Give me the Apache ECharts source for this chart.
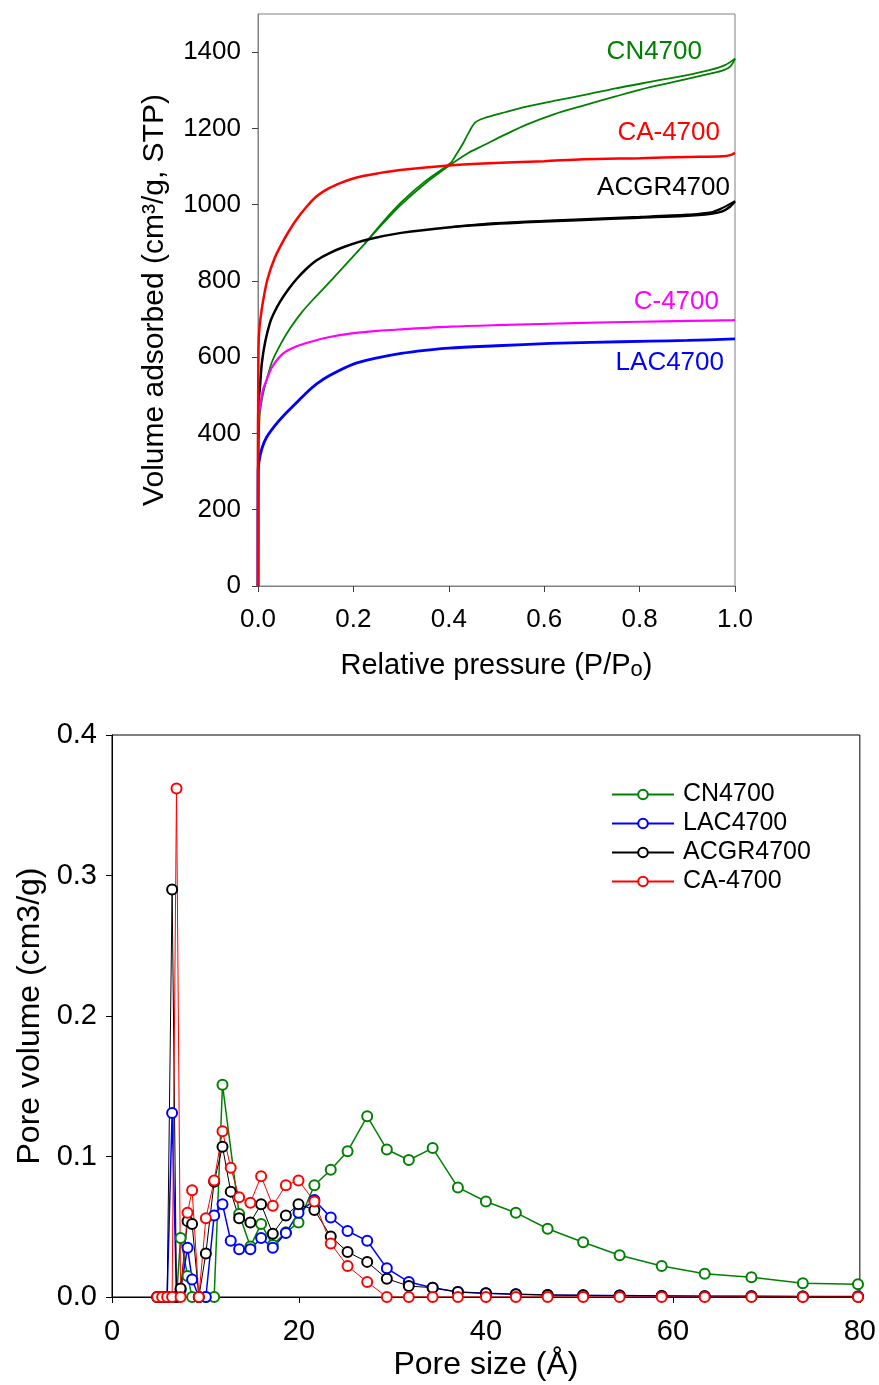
<!DOCTYPE html>
<html>
<head>
<meta charset="utf-8">
<script src="https://cdn.jsdelivr.net/npm/echarts@6/dist/echarts.min.js"></script>
<style>
html,body{margin:0;padding:0;background:#fff;}
#chart{width:879px;height:1385px;}
</style>
</head>
<body>
<div id="chart"></div>
<script>
// ---------- Top chart: N2 isotherms (relative pressure, volume adsorbed) ----------
// CN4700 adsorption / desorption branches
const cnAdsP = [0, 0.0005, 0.002, 0.004, 0.01, 0.018, 0.03, 0.05, 0.067, 0.09, 0.116, 0.154, 0.2, 0.224, 0.26, 0.3, 0.35, 0.4025, 0.44, 0.472, 0.52, 0.563, 0.62, 0.682, 0.75, 0.822, 0.9, 0.95, 0.975, 0.99, 1.0];
const cnAdsV = [0, 330, 400, 453, 500, 540, 590, 640, 675, 715, 752, 802, 865, 898, 948, 1000, 1055, 1104, 1135, 1155, 1185, 1210, 1237, 1260, 1284, 1308, 1330, 1344, 1352, 1362, 1383];
const cnDesP = [1.0, 0.979, 0.95, 0.9, 0.822, 0.75, 0.682, 0.62, 0.563, 0.52, 0.472, 0.455, 0.44, 0.43, 0.415, 0.4025, 0.35, 0.3, 0.26, 0.224];
const cnDesV = [1383, 1366, 1354, 1340, 1322, 1305, 1287, 1272, 1257, 1243, 1226, 1215, 1185, 1161, 1130, 1108, 1061, 1006, 952, 898];

const caP = [0, 0.0002, 0.0008, 0.002, 0.005, 0.011, 0.02, 0.035, 0.053, 0.065, 0.08, 0.1, 0.123, 0.15, 0.175, 0.193, 0.22, 0.25, 0.298, 0.4, 0.472, 0.6, 0.682, 0.8, 0.9, 0.975, 0.99, 1.0];
const caV = [0, 400, 600, 660, 700, 750, 805, 860, 905, 931, 960, 992, 1022, 1044, 1058, 1066, 1075, 1082, 1091, 1103, 1108, 1114, 1119, 1122, 1125, 1127, 1130, 1136];

// ACGR4700 adsorption / desorption branches
const acgrAdsP = [0, 0.0003, 0.001, 0.004, 0.008, 0.015, 0.025, 0.032, 0.046, 0.065, 0.081, 0.1, 0.123, 0.15, 0.18, 0.228, 0.3, 0.4025, 0.5, 0.6, 0.682, 0.8, 0.892, 0.95, 0.975, 0.99, 1.0];
const acgrAdsV = [0, 420, 480, 520, 584, 640, 690, 712, 745, 780, 805, 830, 854, 873, 889, 908, 926, 941, 950, 956, 960, 966, 970, 976, 983, 995, 1009];
const acgrDesP = [1.0, 0.975, 0.95, 0.9, 0.8, 0.7, 0.6, 0.5, 0.4025];
const acgrDesV = [1009, 992, 980, 974, 968, 963, 958, 952, 941];

const cP = [0, 0.0003, 0.001, 0.004, 0.011, 0.018, 0.03, 0.053, 0.08, 0.109, 0.15, 0.193, 0.25, 0.3, 0.4025, 0.5, 0.682, 0.8, 0.9, 0.996, 1.0];
const cV = [0, 400, 435, 470, 517, 540, 575, 610, 628, 640, 653, 662, 669, 673, 680, 684, 690, 693, 695, 697, 698];

const lacP = [0, 0.0003, 0.002, 0.008, 0.018, 0.035, 0.053, 0.08, 0.1, 0.123, 0.15, 0.2, 0.25, 0.3, 0.35, 0.4, 0.5, 0.612, 0.7, 0.822, 0.9, 1.0];
const lacV = [0, 300, 325, 360, 390, 420, 446, 480, 505, 530, 552, 582, 598, 610, 618, 624, 630, 636, 639, 642, 644, 648];

const topXTicks = [0, 0.2, 0.4, 0.6, 0.8, 1.0];
const topYTicks = [0, 200, 400, 600, 800, 1000, 1200, 1400];

// ---------- Bottom chart: pore size distribution ----------
const poreSize = [4.84, 5.36, 5.9, 6.43, 6.9, 7.34, 8.08, 8.57, 9.29, 10.04, 10.93, 11.82, 12.7, 13.6, 14.8, 15.95, 17.2, 18.6, 19.95, 21.65, 23.4, 25.2, 27.3, 29.4, 31.75, 34.3, 37.0, 40.0, 43.2, 46.6, 50.4, 54.3, 58.8, 63.4, 68.4, 73.9, 79.8];
const cn4700PV = [0, 0, 0, 0, 0, 0.042, 0.015, 0, 0, 0, 0, 0.151, null, 0.059, 0.036, 0.052, 0.037, 0.046, 0.053, 0.0795, 0.0906, 0.1037, 0.1286, 0.105, 0.0975, 0.106, 0.078, 0.068, 0.060, 0.0486, 0.039, 0.0297, 0.0221, 0.0166, 0.014, 0.0098, 0.009];
const lac4700PV = [0, 0, 0, 0.131, 0, 0.005, 0.035, 0.0125, 0, 0, 0.058, 0.066, 0.040, 0.034, 0.034, 0.042, 0.035, 0.0455, 0.060, 0.069, 0.0565, 0.047, 0.040, 0.0204, 0.0107, 0.0066, 0.0035, 0.0026, 0.002, 0.0015, 0.0012, 0.001, 0.0008, 0.0006, 0.0005, 0.0004, 0.0003];
const acgr4700PV = [0, 0, 0, 0.290, 0, 0.006, 0.054, 0.052, 0, 0.031, 0.082, 0.107, 0.075, 0.056, 0.053, 0.066, 0.045, 0.058, 0.066, 0.062, 0.043, 0.032, 0.025, 0.013, 0.0078, 0.0066, 0.0035, 0.0026, 0.002, 0.0015, 0.0012, 0.001, 0.0008, 0.0006, 0.0005, 0.0004, 0.0003];
const ca4700PV = [0, 0, 0, 0, 0.362, 0, 0.060, 0.076, 0, 0.056, 0.083, 0.118, 0.092, 0.071, 0.067, 0.086, 0.065, 0.0795, 0.083, 0.068, 0.038, 0.022, 0.0107, 0, 0, 0, 0, 0, 0, 0, 0, 0, 0, 0, 0, 0, 0];
const bottomXTicks = [0, 20, 40, 60, 80];
const bottomYTicks = [0.0, 0.1, 0.2, 0.3, 0.4];

const FONT = 'Liberation Sans, Arial, sans-serif';
const pair = (xs, ys) => xs.map((x, i) => [x, ys[i]]);

const chart = echarts.init(document.getElementById('chart'), null, {renderer: 'canvas'});

function isoSeries(name, xs, ys, color, width) {
  return {
    name: name, type: 'line', xAxisIndex: 0, yAxisIndex: 0,
    data: pair(xs, ys), symbol: 'none', smooth: 0.3,
    lineStyle: {color: color, width: width}, itemStyle: {color: color},
    silent: true, animation: false
  };
}
function psdSeries(name, vals, color, width, bw) {
  return {
    name: name, type: 'line', xAxisIndex: 1, yAxisIndex: 1,
    data: pair(poreSize, vals), connectNulls: true,
    symbol: 'emptyCircle', symbolSize: 10,
    lineStyle: {color: color, width: width},
    itemStyle: {color: color, borderColor: color, borderWidth: bw},
    animation: false
  };
}

const option = {
  backgroundColor: '#fff',
  animation: false,
  textStyle: {fontFamily: FONT},
  grid: [
    {left: 258, top: 14, width: 477, height: 572, show: true, borderColor: '#808080', borderWidth: 1, containLabel: false},
    {left: 112, top: 735, width: 750, height: 562, show: true, borderColor: '#000', borderWidth: 1, containLabel: false}
  ],
  xAxis: [
    {
      type: 'value', gridIndex: 0, min: topXTicks[0], max: topXTicks[topXTicks.length - 1], interval: 0.2,
      axisLine: {show: true, onZero: false, lineStyle: {color: '#808080', width: 1}},
      axisTick: {show: true, inside: false, length: 6, lineStyle: {color: '#404040'}},
      axisLabel: {fontSize: 26, color: '#000', margin: 21, fontFamily: FONT, formatter: v => v.toFixed(1)},
      splitLine: {show: false},
      name: 'Relative pressure (P/P{s|o})', nameLocation: 'middle', nameGap: 65,
      nameTextStyle: {fontSize: 29, color: '#000', fontFamily: FONT, rich: {s: {fontSize: 22, color: '#000', fontFamily: FONT, padding: [8, 0, 0, 0]}}}
    },
    {
      type: 'value', gridIndex: 1, min: bottomXTicks[0], max: bottomXTicks[bottomXTicks.length - 1], interval: 20,
      axisLine: {show: true, onZero: false, lineStyle: {color: '#000', width: 1}},
      axisTick: {show: true, inside: false, length: 6, lineStyle: {color: '#000'}},
      axisLabel: {fontSize: 29, color: '#000', margin: 20, fontFamily: FONT},
      splitLine: {show: false},
      name: 'Pore size (Å)', nameLocation: 'middle', nameGap: 52,
      nameTextStyle: {fontSize: 32, color: '#000', fontFamily: FONT}
    }
  ],
  yAxis: [
    {
      type: 'value', gridIndex: 0, min: topYTicks[0], max: 1500, interval: 200,
      axisLine: {show: true, onZero: false, lineStyle: {color: '#808080', width: 1}},
      axisTick: {show: true, inside: false, length: 6, lineStyle: {color: '#404040'}},
      axisLabel: {fontSize: 26, color: '#000', margin: 17, fontFamily: FONT, showMaxLabel: false,
        formatter: v => (topYTicks.indexOf(v) >= 0 ? String(v) : '')},
      splitLine: {show: false},
      name: 'Volume adsorbed (cm³/g, STP)', nameLocation: 'middle', nameGap: 88, nameRotate: 90,
      nameTextStyle: {fontSize: 30, color: '#000', fontFamily: FONT}
    },
    {
      type: 'value', gridIndex: 1, min: bottomYTicks[0], max: bottomYTicks[bottomYTicks.length - 1], interval: 0.1,
      axisLine: {show: true, onZero: false, lineStyle: {color: '#000', width: 1}},
      axisTick: {show: true, inside: false, length: 6, lineStyle: {color: '#000'}},
      axisLabel: {fontSize: 29, color: '#000', margin: 15, fontFamily: FONT, formatter: v => v.toFixed(1)},
      splitLine: {show: false},
      name: 'Pore volume (cm3/g)', nameLocation: 'middle', nameGap: 60, nameRotate: 90,
      nameTextStyle: {fontSize: 32, color: '#000', fontFamily: FONT}
    }
  ],
  legend: {
    data: ['CN4700', 'LAC4700', 'ACGR4700', 'CA-4700'],
    orient: 'vertical', left: 606, top: 777,
    itemWidth: 62, itemHeight: 12, itemGap: 4,
    textStyle: {fontSize: 25, color: '#000', fontFamily: FONT, lineHeight: 25, padding: [0, 0, 0, 4]},
    selectedMode: false
  },
  graphic: [
    {type: 'text', right: 879 - 702, top: 39, style: {text: 'CN4700', fill: '#008000', font: '26px ' + FONT}},
    {type: 'text', right: 879 - 720, top: 120, style: {text: 'CA-4700', fill: '#ff0000', font: '26px ' + FONT}},
    {type: 'text', right: 879 - 730, top: 175, style: {text: 'ACGR4700', fill: '#000000', font: '26px ' + FONT}},
    {type: 'text', right: 879 - 719, top: 289, style: {text: 'C-4700', fill: '#ff00ff', font: '26px ' + FONT}},
    {type: 'text', right: 879 - 724, top: 350, style: {text: 'LAC4700', fill: '#0000ff', font: '26px ' + FONT}}
  ],
  series: [
    isoSeries('CN4700 adsorption', cnAdsP, cnAdsV, '#008000', 1.8),
    isoSeries('CN4700 desorption', cnDesP, cnDesV, '#008000', 1.8),
    isoSeries('ACGR4700 adsorption', acgrAdsP, acgrAdsV, '#000000', 2.5),
    isoSeries('ACGR4700 desorption', acgrDesP, acgrDesV, '#000000', 2),
    isoSeries('C-4700 isotherm', cP, cV, '#ff00ff', 2.2),
    isoSeries('LAC4700 isotherm', lacP, lacV, '#0000ff', 2.8),
    isoSeries('CA-4700 isotherm', caP, caV, '#ff0000', 2.5),
    psdSeries('CN4700', cn4700PV, '#008000', 1.5, 1.5),
    psdSeries('LAC4700', lac4700PV, '#0000ff', 1.5, 2),
    psdSeries('ACGR4700', acgr4700PV, '#000000', 1, 1),
    psdSeries('CA-4700', ca4700PV, '#ff0000', 1, 1)
  ]
};
chart.setOption(option);
</script>
</body>
</html>
